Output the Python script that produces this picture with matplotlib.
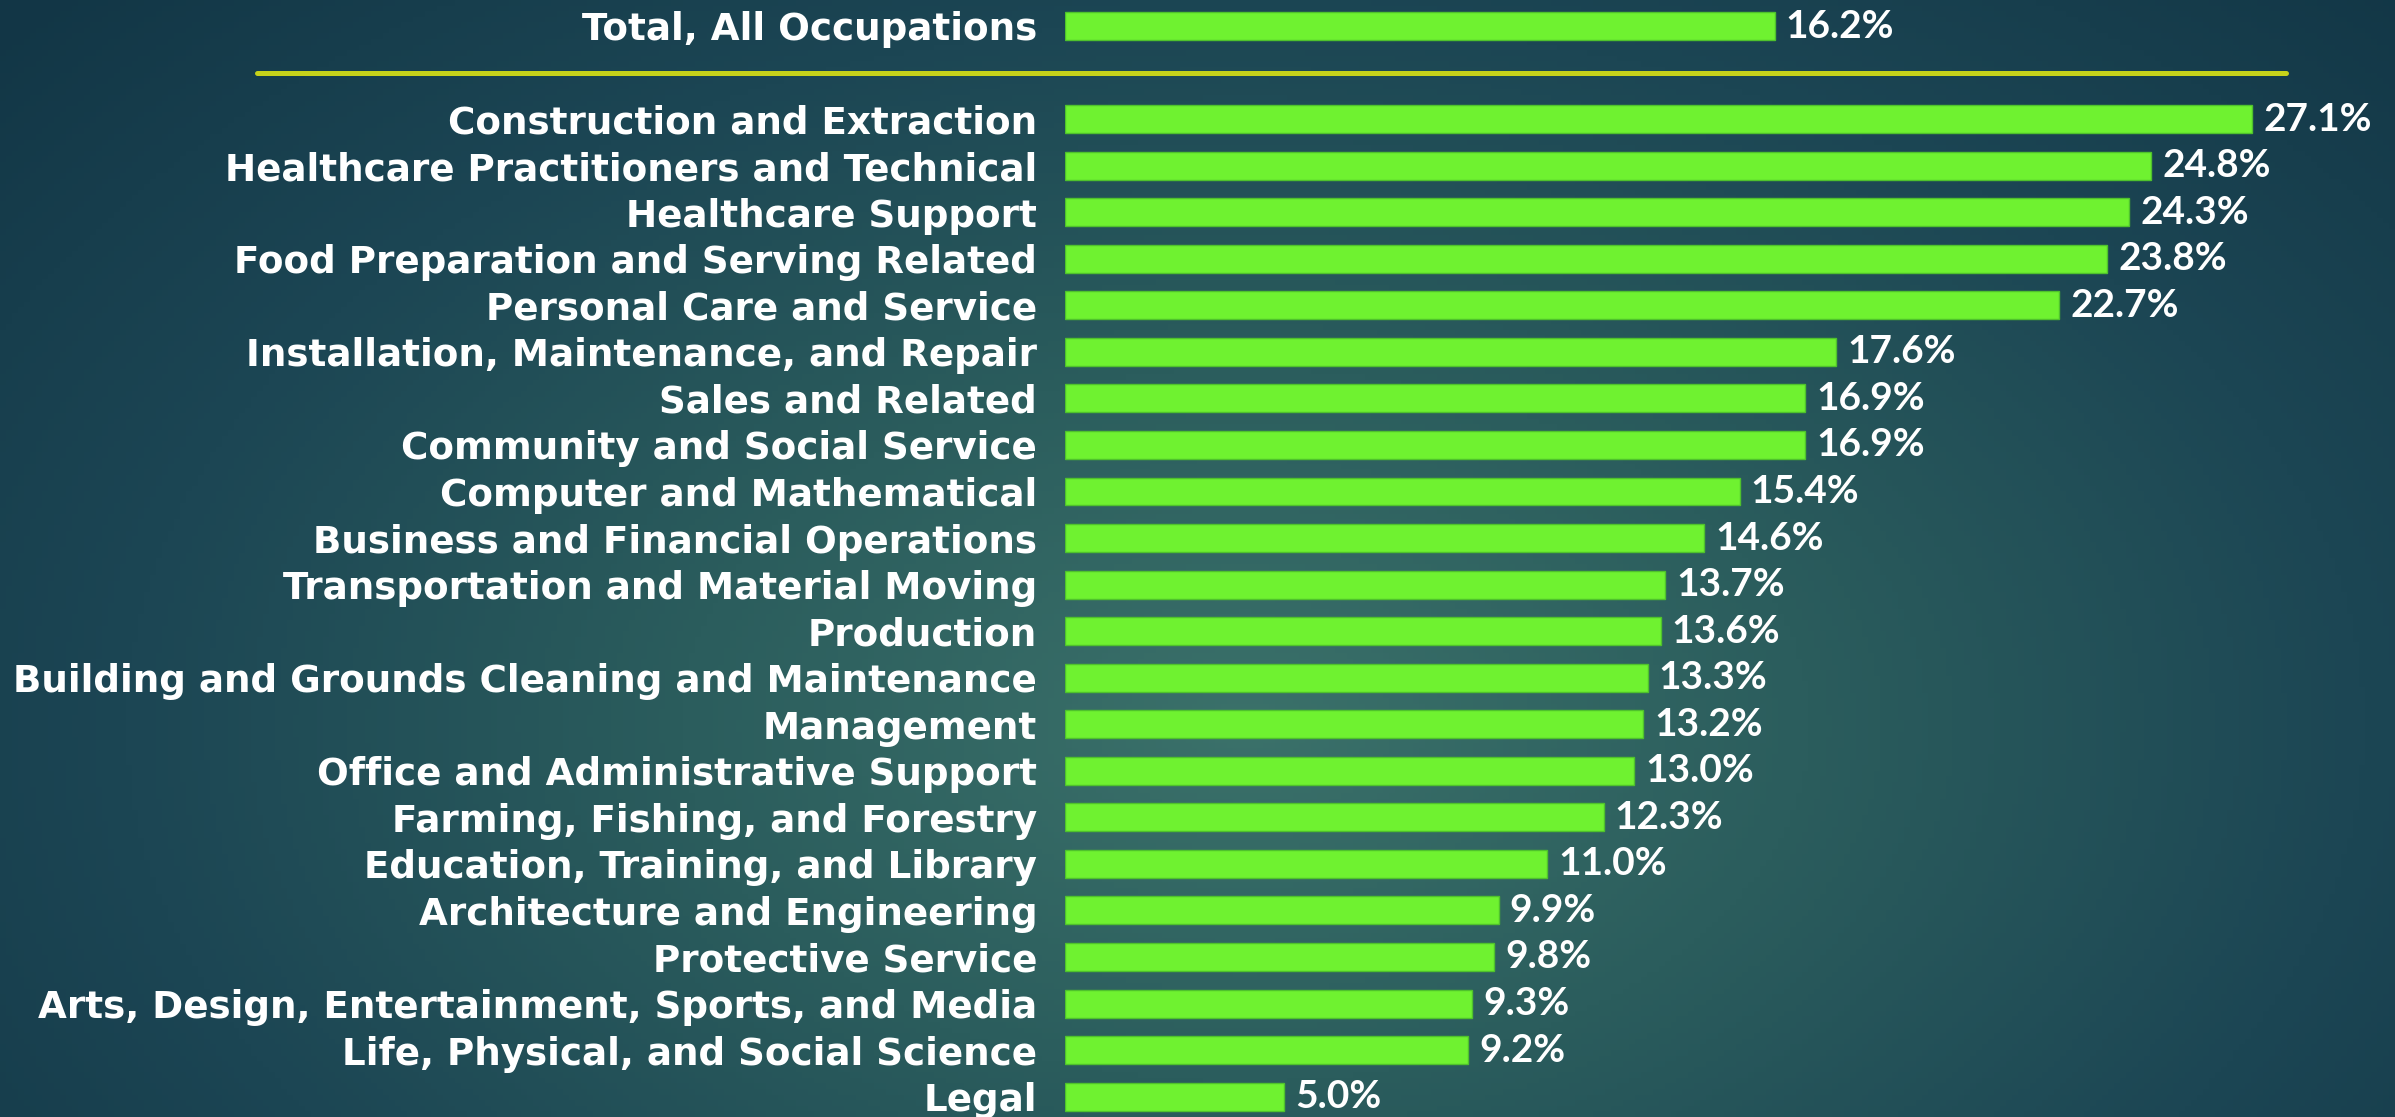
import numpy as np
import matplotlib.pyplot as plt
from matplotlib.colors import LinearSegmentedColormap
from matplotlib.lines import Line2D

# occupation groups and their shares (%)
total_label = "Total, All Occupations"
total_value = 16.2

occupations = [
    "Construction and Extraction",
    "Healthcare Practitioners and Technical",
    "Healthcare Support",
    "Food Preparation and Serving Related",
    "Personal Care and Service",
    "Installation, Maintenance, and Repair",
    "Sales and Related",
    "Community and Social Service",
    "Computer and Mathematical",
    "Business and Financial Operations",
    "Transportation and Material Moving",
    "Production",
    "Building and Grounds Cleaning and Maintenance",
    "Management",
    "Office and Administrative Support",
    "Farming, Fishing, and Forestry",
    "Education, Training, and Library",
    "Architecture and Engineering",
    "Protective Service",
    "Arts, Design, Entertainment, Sports, and Media",
    "Life, Physical, and Social Science",
    "Legal",
]
values = [27.1, 24.8, 24.3, 23.8, 22.7, 17.6, 16.9, 16.9, 15.4, 14.6, 13.7,
          13.6, 13.3, 13.2, 13.0, 12.3, 11.0, 9.9, 9.8, 9.3, 9.2, 5.0]

W, H = 2395, 1117
fig = plt.figure(figsize=(W / 100, H / 100), dpi=100)

#background: radial teal gradient
bg = fig.add_axes([0, 0, 1, 1])
bg.set_axis_off()
xx, yy = np.meshgrid(np.linspace(0, 1, 400), np.linspace(0, 1, 200))
r = np.sqrt(((xx - 0.52) / 0.7) ** 2 + ((yy - 0.65) / 0.95) ** 2)
cmap = LinearSegmentedColormap.from_list("bg", ["#3b716a", "#2b5d5d", "#1c4654", "#123646"])
bg.imshow(np.clip(r, 0, 1), cmap=cmap, aspect="auto", extent=[0, 1, 0, 1], origin="upper")

#bar area
px_per_unit = 43.8
left = 1065 / W
ax = fig.add_axes([left, 0, 1314 / W, 1])
ax.set_xlim(0, 1314 / px_per_unit)
row_px = 46.55
top_row = -2 - 26 / row_px
ax.set_ylim(top_row + H / row_px, top_row)
ax.patch.set_alpha(0)
for s in ax.spines.values():
    s.set_visible(False)
ax.set_xticks([])

labels = [total_label] + occupations
vals = [total_value] + values
ypos = [-2] + list(range(len(occupations)))

ax.barh(ypos, vals, height=0.6, color="#6ff230", edgecolor="#4fc22c", linewidth=1)

ax.set_yticks(ypos)
ax.set_yticklabels(labels, fontsize=26.8, fontweight="bold", color="white", family="DejaVu Sans")
ax.tick_params(axis="y", length=0, pad=20)

for y, v in zip(ypos, vals):
    ax.annotate(f"{v:.1f}%", (v, y), xytext=(8, 0), textcoords="offset points",
                va="center", ha="left", fontsize=28, fontweight="bold",
                color="white", family="Lato")

#separator line under the total
fig.add_artist(Line2D([257 / W, 2286 / W], [1 - 73 / H, 1 - 73 / H],
                      color="#c6d21a", linewidth=3.6, solid_capstyle="round"))

fig.savefig("out.png", dpi=100)
